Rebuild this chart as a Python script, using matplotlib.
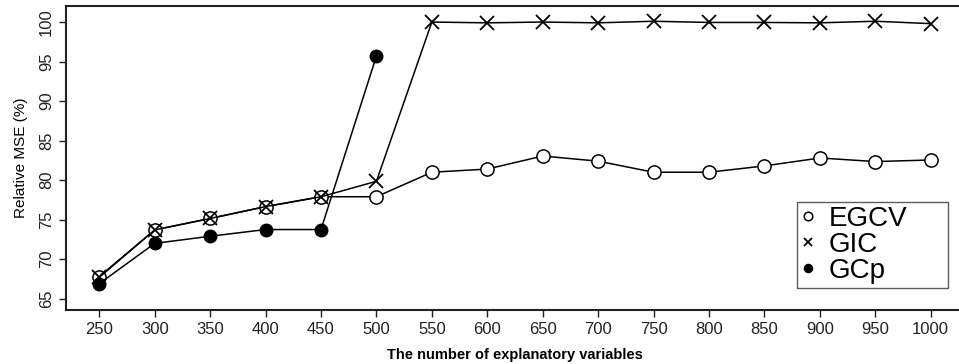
import numpy as np
import matplotlib
matplotlib.use("Agg")
import matplotlib.pyplot as plt

plt.rcParams['font.family'] = ['Liberation Sans', 'DejaVu Sans']

# number of explanatory variables
n_vars = [250, 300, 350, 400, 450, 500, 550, 600, 650, 700, 750, 800, 850, 900, 950, 1000]

egcv = [67.8, 73.7, 75.15, 76.65, 77.9, 77.9, 81.0, 81.4, 83.05, 82.4, 81.0, 81.0, 81.8, 82.8, 82.35, 82.55]
gic = [67.7, 73.7, 75.15, 76.65, 77.9, 79.85, 100.0, 99.9, 100.0, 99.9, 100.1, 99.95, 99.95, 99.9, 100.1, 99.8]
gcp_vars = [250, 300, 350, 400, 450, 500]
gcp = [66.9, 72.0, 72.9, 73.75, 73.75, 95.7]

y_ticks = [65, 70, 75, 80, 85, 90, 95, 100]

W, H = 959, 364
fig = plt.figure(figsize=(W / 100, H / 100), dpi=100)
left, right, top, bottom = 66, 964, 6, 310
ax = fig.add_axes([left / W, 1 - bottom / H, (right - left) / W, (bottom - top) / H])

ax.plot(n_vars, egcv, color='black', lw=1.1, marker='o', ms=9.5,
        mfc='white', mec='black', mew=1.1, label='EGCV', zorder=3)
ax.plot(n_vars, gic, color='black', lw=1.1, marker='x', ms=9.5,
        mew=1.3, label='GIC', zorder=4)
ax.plot(gcp_vars, gcp, color='black', lw=1.1, marker='o', ms=9,
        mfc='black', mec='black', label='GCp', zorder=5)

ax.set_xlim(220, 1030)
ax.set_ylim(63.57, 102.03)
ax.set_xticks(n_vars)
ax.set_yticks(y_ticks)
ax.tick_params(axis='both', direction='out', length=5, width=1, labelsize=12, colors='#222222')
ax.tick_params(axis='y', labelrotation=90)
for lab in ax.get_yticklabels():
    lab.set_va('center')
for sp in ax.spines.values():
    sp.set_linewidth(1.5)
    sp.set_color('#222222')

ax.set_ylabel('Relative MSE (%)', fontsize=11, labelpad=8)
ax.set_xlabel('The number of explanatory variables', fontsize=10.5, fontweight='bold', labelpad=8)

leg = ax.legend(loc='center', bbox_to_anchor=(797 / W, 1 - 294 / H, 151 / W, 98 / H),
                bbox_transform=fig.transFigure, mode='expand', fontsize=20,
                frameon=True, fancybox=False, edgecolor='#333333', borderpad=0.15,
                labelspacing=0.0, handlelength=0.5, handletextpad=0.5,
                borderaxespad=0, markerscale=0.65)
leg.get_frame().set_linewidth(1.0)
for h in leg.legend_handles:
    h.set_linestyle('none')

fig.savefig('out.png', dpi=100)
